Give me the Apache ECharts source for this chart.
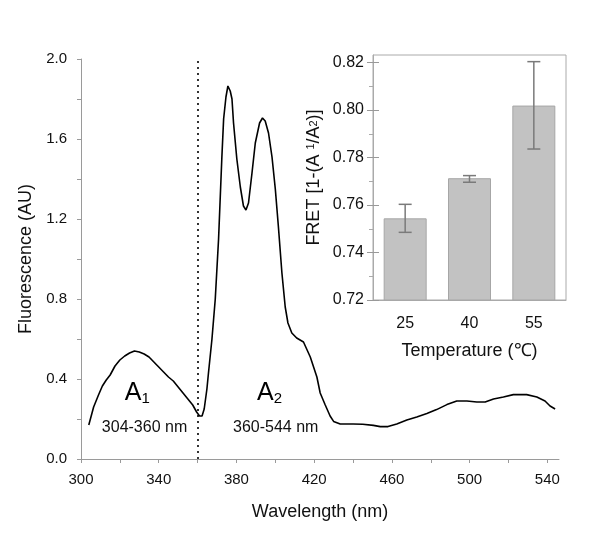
<!DOCTYPE html>
<html>
<head>
<meta charset="utf-8">
<script src="https://cdn.jsdelivr.net/npm/echarts@6/dist/echarts.min.js"></script>
<style>
html,body{margin:0;padding:0;background:#fff;}
#chart{width:600px;height:545px;}
</style>
</head>
<body>
<div id="chart"></div>
<script>
// ---- Main spectrum data ----
const wavelength = [304,306.5,309,311,313,315,317.5,320,322.5,325,327.5,330,332.5,335,337.5,340,342.5,345,347.5,350,352.5,355,357.5,359.5,361,362.3,363.4,364.8,365.6,367.4,369.1,370.8,372.5,373.4,374.6,375.6,376.8,377.7,378.5,380.2,382,383.6,384.9,386.2,388,389.7,391.9,393.4,394.8,396.5,398.3,400,401.6,403.4,405.1,406.5,408.5,411,414.5,418,421.4,423.1,425.7,428.2,430,433.4,440,445,450.5,454,458,462.5,467.7,472.8,478,483,488.3,493.4,498.6,503.7,508,512.3,517.4,522.5,529.4,534.6,538.8,541.4,544];
const fluorescence = [0.17,0.26,0.32,0.365,0.395,0.42,0.465,0.495,0.515,0.53,0.54,0.535,0.525,0.51,0.485,0.46,0.435,0.41,0.39,0.36,0.33,0.30,0.27,0.235,0.215,0.215,0.25,0.35,0.43,0.6,0.8,1.1,1.51,1.70,1.81,1.865,1.84,1.80,1.68,1.50,1.36,1.265,1.245,1.28,1.43,1.58,1.68,1.705,1.69,1.63,1.51,1.35,1.16,0.93,0.76,0.68,0.63,0.605,0.585,0.51,0.41,0.33,0.27,0.215,0.188,0.175,0.175,0.174,0.168,0.162,0.162,0.175,0.195,0.21,0.227,0.247,0.272,0.29,0.29,0.285,0.285,0.3,0.31,0.322,0.322,0.31,0.29,0.265,0.25];
const dividerWavelength = 360;
const mainXTicks = [300,320,340,360,380,400,420,440,460,480,500,520,540];
const mainXLabels = [300,340,380,420,460,500,540];
const mainYTicks = [0,0.2,0.4,0.6,0.8,1.0,1.2,1.4,1.6,1.8,2.0];
const mainYLabels = [0,0.4,0.8,1.2,1.6,2.0];

// ---- Annotations (data coordinates) ----
const annoRegion = ['A1','A2'];
const annoRegionX = [329,397];
const annoRegionY = [0.33,0.33];
const annoRange = ['304-360 nm','360-544 nm'];
const annoRangeX = [332.7,400.2];
const annoRangeY = [0.157,0.157];

// ---- Inset data ----
const temperatures = ['25','40','55'];
const fretValues = [0.7544,0.7713,0.8019];
const fretErrLow = [0.7485,0.7696,0.7836];
const fretErrHigh = [0.7603,0.7724,0.8204];
const insetYMajor = [0.72,0.74,0.76,0.78,0.80,0.82];
const insetYMinor = [0.73,0.75,0.77,0.79,0.81];

const chart = echarts.init(document.getElementById('chart'));
const FONT = 'Liberation Sans, Arial, sans-serif';
const TXT = '#111';
const AX = '#9a9a9a';

const option = {
  animation: false,
  backgroundColor: '#fff',
  textStyle: {fontFamily: FONT},
  grid: [
    {left: 81, top: 59, right: 41, bottom: 86, containLabel: false},
    {left: 373, top: 55, right: 34, bottom: 245, containLabel: false, show: true, borderColor: '#aaa', borderWidth: 1, backgroundColor: '#fff', z: 5}
  ],
  xAxis: [
    {
      type: 'value', gridIndex: 0, min: 300, max: 546, interval: 20,
      axisLine: {show: true, lineStyle: {color: AX, width: 1}},
      axisTick: {show: true, customValues: mainXTicks, length: 4, lineStyle: {color: AX}},
      axisLabel: {customValues: mainXLabels, fontSize: 15, margin: 13, color: TXT, fontFamily: FONT},
      splitLine: {show: false},
      name: 'Wavelength (nm)', nameLocation: 'middle', nameGap: 44,
      nameTextStyle: {fontSize: 18, color: TXT, fontFamily: FONT}
    },
    {
      type: 'category', gridIndex: 1, data: temperatures,
      axisLine: {show: true, lineStyle: {color: '#aaa'}},
      axisTick: {show: false},
      axisLabel: {fontSize: 16, margin: 16, color: TXT, fontFamily: FONT},
      name: 'Temperature (\u2103)', nameLocation: 'middle', nameGap: 42,
      nameTextStyle: {fontSize: 18, color: TXT, fontFamily: FONT}, z: 6
    }
  ],
  yAxis: [
    {
      type: 'value', gridIndex: 0, min: 0, max: 2, interval: 0.2,
      axisLine: {show: true, lineStyle: {color: AX, width: 1}},
      axisTick: {show: true, customValues: mainYTicks, length: 4, lineStyle: {color: AX}},
      axisLabel: {customValues: mainYLabels, fontSize: 15, margin: 14, color: TXT, fontFamily: FONT,
        formatter: v => Number(v).toFixed(1)},
      splitLine: {show: false},
      name: 'Fluorescence (AU)', nameLocation: 'middle', nameGap: 40,
      nameTextStyle: {fontSize: 18, color: TXT, fontFamily: FONT}
    },
    {
      type: 'value', gridIndex: 1, min: 0.72, max: 0.8232, position: 'left',
      axisLine: {show: true, onZero: false, lineStyle: {color: '#aaa'}},
      axisTick: {show: true, customValues: insetYMinor, length: 4, lineStyle: {color: '#aaa'}},
      axisLabel: {customValues: insetYMajor, fontSize: 16, margin: 9, color: TXT, fontFamily: FONT,
        formatter: v => Number(v).toFixed(2)},
      splitLine: {show: false},
      name: '{n|FRET [1-(A }{sup|1}{n|/A}{sub|2}{n|)]}', nameLocation: 'middle', nameGap: 50,
      nameTextStyle: {fontSize: 18, color: TXT, fontFamily: FONT,
        rich: {
          n: {fontSize: 18, color: TXT, fontFamily: FONT},
          sup: {fontSize: 11, color: TXT, fontFamily: FONT, verticalAlign: 'top'},
          sub: {fontSize: 11, color: TXT, fontFamily: FONT, verticalAlign: 'middle'}
        }}, z: 6
    },
    {
      type: 'value', gridIndex: 1, min: 0.72, max: 0.8232, position: 'left', offset: -6,
      axisLine: {show: false, onZero: false},
      axisTick: {show: true, customValues: insetYMajor, length: 12, lineStyle: {color: '#999'}},
      axisLabel: {show: false},
      splitLine: {show: false}, z: 6
    }
  ],
  series: [
    {
      type: 'line', xAxisIndex: 0, yAxisIndex: 0,
      data: wavelength.map((w, i) => [w, fluorescence[i]]),
      showSymbol: false, symbol: 'none',
      lineStyle: {color: '#000', width: 1.6},
      markLine: {
        silent: true, symbol: 'none', label: {show: false},
        lineStyle: {color: '#000', width: 1.6, type: [2, 4]},
        data: [{xAxis: dividerWavelength}]
      }
    },
    {
      type: 'scatter', xAxisIndex: 0, yAxisIndex: 0, symbolSize: 0, silent: true,
      itemStyle: {opacity: 1},
      data: annoRegion.map((t, i) => ({value: [annoRegionX[i], annoRegionY[i]], name: t})),
      label: {
        show: true, position: 'inside',
        formatter: p => '{a|' + p.name[0] + '}{s|' + p.name.slice(1) + '}',
        rich: {
          a: {fontSize: 25, color: '#000', fontFamily: FONT, verticalAlign: 'bottom', lineHeight: 26},
          s: {fontSize: 15, color: '#000', fontFamily: FONT, verticalAlign: 'bottom', lineHeight: 13}
        }
      }
    },
    {
      type: 'scatter', xAxisIndex: 0, yAxisIndex: 0, symbolSize: 0, silent: true,
      itemStyle: {opacity: 1},
      data: annoRange.map((t, i) => ({value: [annoRangeX[i], annoRangeY[i]], name: t})),
      label: {show: true, position: 'inside', formatter: p => p.name, fontSize: 16, color: '#111', fontFamily: FONT}
    },
    {
      type: 'bar', xAxisIndex: 1, yAxisIndex: 1, data: fretValues, barWidth: 43, z: 7,
      itemStyle: {color: '#c2c2c2', borderColor: '#a6a6a6', borderWidth: 1}
    },
    {
      type: 'custom', xAxisIndex: 1, yAxisIndex: 1, z: 8,
      data: fretErrLow.map((lo, i) => [i, lo, fretErrHigh[i]]),
      renderItem: (params, api) => {
        const hi = api.coord([api.value(0), api.value(2)]);
        const lo = api.coord([api.value(0), api.value(1)]);
        const hw = 6.5;
        const st = {stroke: '#7a7a7a', lineWidth: 1.5};
        return {type: 'group', children: [
          {type: 'line', shape: {x1: hi[0], y1: hi[1], x2: lo[0], y2: lo[1]}, style: st},
          {type: 'line', shape: {x1: hi[0]-hw, y1: hi[1], x2: hi[0]+hw, y2: hi[1]}, style: st},
          {type: 'line', shape: {x1: lo[0]-hw, y1: lo[1], x2: lo[0]+hw, y2: lo[1]}, style: st}
        ]};
      }
    }
  ]
};
chart.setOption(option);
</script>
</body>
</html>
